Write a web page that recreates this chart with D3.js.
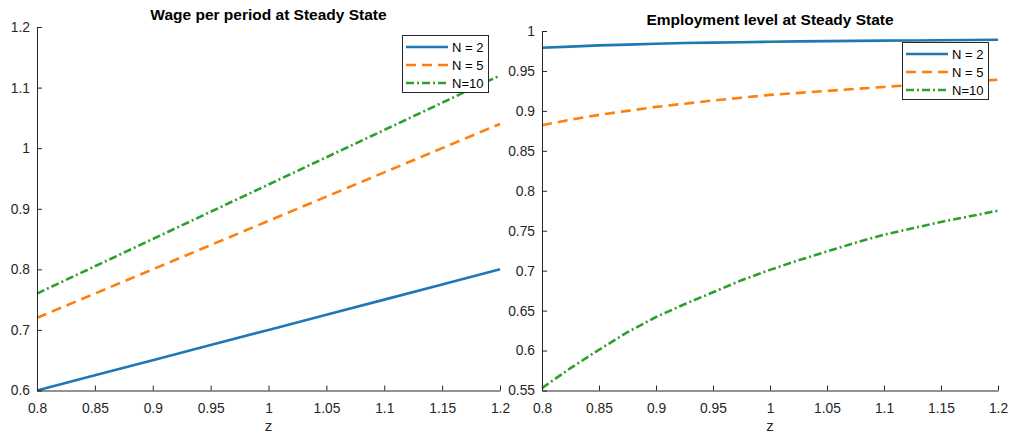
<!DOCTYPE html>
<html>
<head>
<meta charset="utf-8">
<script src="https://cdn.jsdelivr.net/npm/d3@7"></script>
<style>
  html, body { margin: 0; padding: 0; background: #fff; }
  svg { display: block; font-family: "Liberation Sans", Arial, Helvetica, sans-serif; }
</style>
</head>
<body>
<svg id="chart" width="1009" height="436"></svg>
<script>
// Productivity grid (z) for the wage panel
const zWage = [0.8, 0.85, 0.9, 0.95, 1.0, 1.05, 1.1, 1.15, 1.2];
const wageN2  = [0.600, 0.625, 0.650, 0.675, 0.700, 0.725, 0.750, 0.775, 0.800];
const wageN5  = [0.720, 0.760, 0.800, 0.840, 0.880, 0.920, 0.960, 1.000, 1.040];
const wageN10 = [0.760, 0.805, 0.850, 0.895, 0.940, 0.985, 1.030, 1.075, 1.120];

// Productivity grid (z) for the employment panel
const zEmp = [0.8, 0.825, 0.85, 0.875, 0.9, 0.925, 0.95, 0.975, 1.0,
              1.025, 1.05, 1.075, 1.1, 1.125, 1.15, 1.175, 1.2];
const empN2  = [0.9790, 0.9805, 0.9820, 0.9830, 0.9840, 0.9850, 0.9855, 0.9860, 0.9865,
                0.9870, 0.9873, 0.9876, 0.9879, 0.9882, 0.9885, 0.9887, 0.9890];
const empN5  = [0.882, 0.889, 0.895, 0.900, 0.905, 0.909, 0.913, 0.9165, 0.920,
                0.9225, 0.925, 0.9275, 0.930, 0.9325, 0.935, 0.937, 0.939];
const empN10 = [0.553, 0.578, 0.601, 0.623, 0.642, 0.658, 0.673, 0.688, 0.701,
                0.713, 0.724, 0.735, 0.745, 0.753, 0.761, 0.768, 0.775];

const seriesNames = ["N = 2", "N = 5", "N=10"];
const xTicks = [0.8, 0.85, 0.9, 0.95, 1.0, 1.05, 1.1, 1.15, 1.2];
const xTickLabels = ["0.8", "0.85", "0.9", "0.95", "1", "1.05", "1.1", "1.15", "1.2"];
const wageTicks = [0.6, 0.7, 0.8, 0.9, 1.0, 1.1, 1.2];
const wageTickLabels = ["0.6", "0.7", "0.8", "0.9", "1", "1.1", "1.2"];
const empTicks = [0.55, 0.6, 0.65, 0.7, 0.75, 0.8, 0.85, 0.9, 0.95, 1.0];
const empTickLabels = ["0.55", "0.6", "0.65", "0.7", "0.75", "0.8", "0.85", "0.9", "0.95", "1"];

const colors = ["#1f77b4", "#ff7f0e", "#2ca02c"];
const dashes = [null, "10,6", "8,3,2,3"];
const axisColor = "#262626";

const svg = d3.select("#chart");
svg.append("rect").attr("width", 1009).attr("height", 436).attr("fill", "#fff");

function panel(opts) {
  const x = d3.scaleLinear().domain([0.8, 1.2]).range([opts.left, opts.right]);
  const y = d3.scaleLinear().domain(opts.yDomain).range([opts.bottom, opts.top]);
  const g = svg.append("g");

  // curves
  const line = d3.line().x(d => x(d[0])).y(d => y(d[1]));
  opts.series.forEach((vals, i) => {
    g.append("path")
      .datum(opts.z.map((z, k) => [z, vals[k]]))
      .attr("d", line)
      .attr("fill", "none")
      .attr("stroke", colors[i])
      .attr("stroke-width", 2.6)
      .attr("stroke-dasharray", dashes[i]);
  });

  // x axis (ticks pointing inward)
  const xAxis = d3.axisBottom(x).tickValues(xTicks)
    .tickFormat((d, i) => xTickLabels[i]).tickSizeInner(-5).tickSizeOuter(0).tickPadding(13);
  const gx = g.append("g").attr("transform", `translate(0,${opts.bottom})`).call(xAxis);
  gx.select(".domain").attr("stroke", axisColor);
  gx.selectAll(".tick line").attr("stroke", axisColor);
  gx.selectAll("text").attr("fill", axisColor).style("font-size", "13.8px");

  // y axis (ticks pointing inward)
  const yAxis = d3.axisLeft(y).tickValues(opts.yTicks)
    .tickFormat((d, i) => opts.yTickLabels[i]).tickSizeInner(-5).tickSizeOuter(0).tickPadding(7);
  const gy = g.append("g").attr("transform", `translate(${opts.left},0)`).call(yAxis);
  gy.select(".domain").attr("stroke", axisColor);
  gy.selectAll(".tick line").attr("stroke", axisColor);
  gy.selectAll("text").attr("fill", axisColor).style("font-size", "13.8px");

  // title and axis label
  g.append("text")
    .attr("x", (opts.left + opts.right) / 2).attr("y", opts.titleY)
    .attr("text-anchor", "middle").attr("font-weight", "bold")
    .style("font-size", "15.5px").attr("fill", "#000")
    .text(opts.title);
  g.append("text")
    .attr("x", (opts.left + opts.right) / 2).attr("y", 431)
    .attr("text-anchor", "middle").style("font-size", "15px").attr("fill", axisColor)
    .text("z");

  // legend
  const lg = g.append("g").attr("transform", `translate(${opts.legendX},${opts.legendY})`);
  lg.append("rect").attr("x", 0.5).attr("y", 0.5).attr("width", 86).attr("height", 57)
    .attr("fill", "#fff").attr("stroke", axisColor).attr("stroke-width", 1);
  seriesNames.forEach((name, i) => {
    const ry = 12 + i * 18;
    lg.append("line").attr("x1", 4).attr("x2", 46).attr("y1", ry).attr("y2", ry)
      .attr("stroke", colors[i]).attr("stroke-width", 2.6)
      .attr("stroke-dasharray", dashes[i]);
    lg.append("text").attr("x", 50).attr("y", ry).attr("dy", "0.35em")
      .style("font-size", "13px").attr("fill", "#000").text(name);
  });
}

panel({
  left: 37, right: 500, top: 27, bottom: 390.5,
  yDomain: [0.6, 1.2], yTicks: wageTicks, yTickLabels: wageTickLabels,
  z: zWage, series: [wageN2, wageN5, wageN10],
  title: "Wage per period at Steady State", titleY: 19.5,
  legendX: 402, legendY: 35
});

panel({
  left: 542, right: 998, top: 31, bottom: 390.5,
  yDomain: [0.55, 1.0], yTicks: empTicks, yTickLabels: empTickLabels,
  z: zEmp, series: [empN2, empN5, empN10],
  title: "Employment level at Steady State", titleY: 24.5,
  legendX: 902, legendY: 42
});
</script>
</body>
</html>
